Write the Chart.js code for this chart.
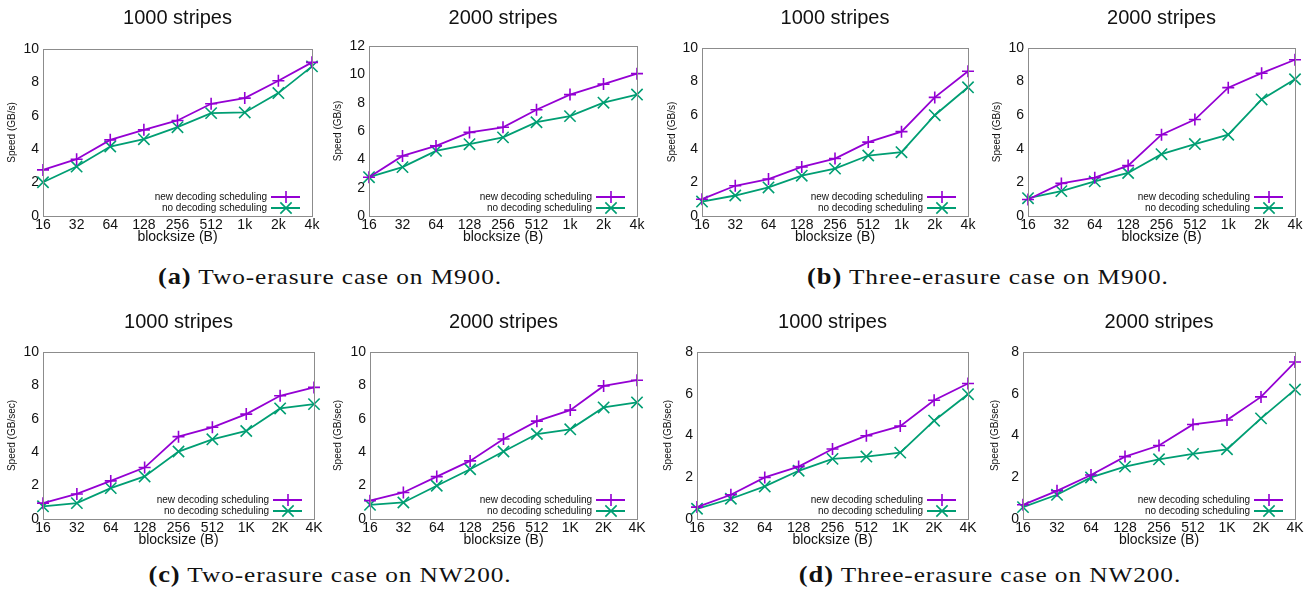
<!DOCTYPE html>
<html>
<head>
<meta charset="utf-8">
<script src="https://cdn.jsdelivr.net/npm/chart.js@4.4.1/dist/chart.umd.min.js"></script>
<style>
  body { margin: 0; background: #fff; }
  #page { position: relative; width: 1312px; height: 598px; overflow: hidden; }
  canvas { position: absolute; }
  .cap { position: absolute; width: 600px; text-align: center; font-family: "Liberation Serif", serif; font-size: 22px; color: #111;
         letter-spacing: 0.8px; transform: scaleX(1.15); transform-origin: center; }
  .cap b { font-size: 23px; }
</style>
</head>
<body>
<div id="page">
  <div class="cap" style="left:30px; top:264px;"><b>(a)</b> Two-erasure case on M900.</div>
  <div class="cap" style="left:688px; top:264px;"><b>(b)</b> Three-erasure case on M900.</div>
  <div class="cap" style="left:30px; top:562px;"><b>(c)</b> Two-erasure case on NW200.</div>
  <div class="cap" style="left:690px; top:562px;"><b>(d)</b> Three-erasure case on NW200.</div>
</div>
<script>
// x categories
const blockLower = ['16', '32', '64', '128', '256', '512', '1k', '2k', '4k'];
const blockUpper = ['16', '32', '64', '128', '256', '512', '1K', '2K', '4K'];
const seriesNames = ['new decoding scheduling', 'no decoding scheduling'];

// (a) two-erasure, M900
const a1New = [2.76, 3.4, 4.56, 5.16, 5.72, 6.72, 7.06, 8.1, 9.2];
const a1No  = [2.02, 2.96, 4.16, 4.6, 5.32, 6.16, 6.2, 7.36, 8.96];
const a2New = [2.74, 4.24, 4.95, 5.9, 6.26, 7.5, 8.57, 9.31, 10.05];
const a2No  = [2.74, 3.45, 4.6, 5.07, 5.55, 6.62, 7.05, 8.0, 8.57];
// (b) three-erasure, M900
const b1New = [1.0, 1.8, 2.2, 2.92, 3.42, 4.4, 5.02, 7.06, 8.62];
const b1No  = [0.86, 1.22, 1.7, 2.4, 2.82, 3.6, 3.8, 6.0, 7.66];
const b2New = [0.98, 1.94, 2.28, 3.0, 4.84, 5.74, 7.64, 8.5, 9.3];
const b2No  = [1.06, 1.48, 2.06, 2.56, 3.68, 4.28, 4.84, 6.94, 8.14];
// (c) two-erasure, NW200
const c1New = [0.95, 1.5, 2.28, 3.08, 4.93, 5.49, 6.28, 7.38, 7.88];
const c1No  = [0.76, 0.95, 1.85, 2.55, 4.04, 4.77, 5.27, 6.62, 6.88];
const c2New = [1.1, 1.59, 2.54, 3.48, 4.79, 5.86, 6.52, 7.97, 8.31];
const c2No  = [0.85, 0.99, 1.99, 2.98, 4.04, 5.09, 5.37, 6.68, 6.98];
// (d) three-erasure, NW200
const d1New = [0.57, 1.16, 1.99, 2.51, 3.35, 3.99, 4.45, 5.69, 6.49];
const d1No  = [0.49, 0.97, 1.56, 2.31, 2.88, 2.99, 3.18, 4.71, 5.98];
const d2New = [0.68, 1.35, 2.11, 2.99, 3.52, 4.53, 4.74, 5.85, 7.52];
const d2No  = [0.57, 1.16, 1.99, 2.51, 2.86, 3.12, 3.34, 4.82, 6.2];

const PURPLE = '#9400d3';
const GREEN = '#009e73';
const FONT = '"Liberation Sans", Arial, sans-serif';

// one entry per panel: data, axis max, plot box on the page [left, top, right, bottom], y title x, title y
const panels = [
  { title: '1000 stripes', labels: blockLower, newS: a1New, noS: a1No, yMax: 10, yTitle: 'Speed (GB/s)', box: [43, 49, 312, 216], yt: 12, top: 0, ty: 18 },
  { title: '2000 stripes', labels: blockLower, newS: a2New, noS: a2No, yMax: 12, yTitle: 'Speed (GB/s)', box: [369, 46, 637, 216], yt: 338, top: 0, ty: 18 },
  { title: '1000 stripes', labels: blockLower, newS: b1New, noS: b1No, yMax: 10, yTitle: 'Speed (GB/s)', box: [702, 48, 968, 216], yt: 672, top: 0, ty: 18 },
  { title: '2000 stripes', labels: blockLower, newS: b2New, noS: b2No, yMax: 10, yTitle: 'Speed (GB/s)', box: [1028, 48, 1295, 216], yt: 997, top: 0, ty: 18 },
  { title: '1000 stripes', labels: blockUpper, newS: c1New, noS: c1No, yMax: 10, yTitle: 'Speed (GB/sec)', box: [43, 352, 314, 519], yt: 12, top: 300, ty: 22 },
  { title: '2000 stripes', labels: blockUpper, newS: c2New, noS: c2No, yMax: 10, yTitle: 'Speed (GB/sec)', box: [370, 352, 637, 519], yt: 338, top: 300, ty: 22 },
  { title: '1000 stripes', labels: blockUpper, newS: d1New, noS: d1No, yMax: 8, yTitle: 'Speed (GB/sec)', box: [697, 352, 968, 519], yt: 668, top: 300, ty: 22 },
  { title: '2000 stripes', labels: blockUpper, newS: d2New, noS: d2No, yMax: 8, yTitle: 'Speed (GB/sec)', box: [1023, 352, 1295, 519], yt: 995, top: 300, ty: 22 }
];

// frame, panel title and the inside legend
const gnuplotLook = {
  id: 'gnuplotLook',
  afterDraw(chart, args, opts) {
    const { ctx, chartArea: a } = chart;
    ctx.save();
    ctx.strokeStyle = '#8c8c8c';
    ctx.lineWidth = 1;
    ctx.strokeRect(Math.round(a.left) + 0.5, Math.round(a.top) + 0.5, Math.round(a.right - a.left), Math.round(a.bottom - a.top));

    ctx.fillStyle = '#111';
    ctx.font = '20px ' + FONT;
    ctx.textAlign = 'center';
    ctx.textBaseline = 'middle';
    ctx.fillText(opts.title, (a.left + a.right) / 2, opts.titleY);

    ctx.font = '10px ' + FONT;
    ctx.textAlign = 'right';
    chart.data.datasets.forEach((ds, i) => {
      const y = a.bottom - 19 + i * 11;
      ctx.fillStyle = '#111';
      ctx.fillText(ds.label, a.right - 45, y);
      ctx.strokeStyle = ds.borderColor;
      ctx.lineWidth = 2;
      ctx.beginPath();
      ctx.moveTo(a.right - 41, y);
      ctx.lineTo(a.right - 12, y);
      ctx.stroke();
      ctx.lineWidth = 1.6;
      Chart.helpers.drawPoint(ctx, { pointStyle: ds.pointStyle, radius: ds.pointRadius, rotation: 0, borderWidth: 1.6 }, a.right - 26, y);
    });
    ctx.restore();
  }
};

const page = document.getElementById('page');

panels.forEach(p => {
  const [l, t, r, b] = p.box;
  const left = p.yt - 8;
  const yw = l - left;
  const width = r + 15 - left;
  const height = b + 31 - p.top;
  const canvas = document.createElement('canvas');
  canvas.style.left = left + 'px';
  canvas.style.top = p.top + 'px';
  canvas.style.width = width + 'px';
  canvas.style.height = height + 'px';
  canvas.width = width;
  canvas.height = height;
  page.appendChild(canvas);

  new Chart(canvas, {
    type: 'line',
    data: {
      labels: p.labels,
      datasets: [
        { label: seriesNames[0], data: p.newS, borderColor: PURPLE, backgroundColor: PURPLE, borderWidth: 1.8,
          pointStyle: 'cross', pointRadius: 6, pointBorderWidth: 1.6, tension: 0, clip: false },
        { label: seriesNames[1], data: p.noS, borderColor: GREEN, backgroundColor: GREEN, borderWidth: 1.8,
          pointStyle: 'crossRot', pointRadius: 8, pointBorderWidth: 1.6, tension: 0, clip: false }
      ]
    },
    options: {
      responsive: false,
      animation: false,
      layout: { autoPadding: false, padding: { top: t - p.top, right: 15, left: 0, bottom: 0 } },
      plugins: {
        legend: { display: false },
        tooltip: { enabled: false },
        gnuplotLook: { title: p.title, titleY: p.ty }
      },
      scales: {
        x: {
          offset: false,
          grid: { display: false, drawTicks: false },
          border: { display: false },
          ticks: { color: '#111', font: { size: 14, family: FONT }, padding: 1, maxRotation: 0, autoSkip: false },
          title: { display: true, text: 'blocksize (B)', color: '#111', font: { size: 14, family: FONT }, padding: { top: 0, bottom: 1 } },
          afterFit: s => { s.height = 31; }
        },
        y: {
          min: 0, max: p.yMax,
          grid: { display: false, drawTicks: false },
          border: { display: false },
          ticks: { stepSize: 2, color: '#111', font: { size: 14, family: FONT }, padding: 4 },
          title: { display: true, text: p.yTitle, color: '#111', font: { size: 10, family: FONT }, padding: { top: 2, bottom: 0 } },
          afterFit: s => { s.width = yw; }
        }
      }
    },
    plugins: [gnuplotLook]
  });
});
</script>
</body>
</html>
